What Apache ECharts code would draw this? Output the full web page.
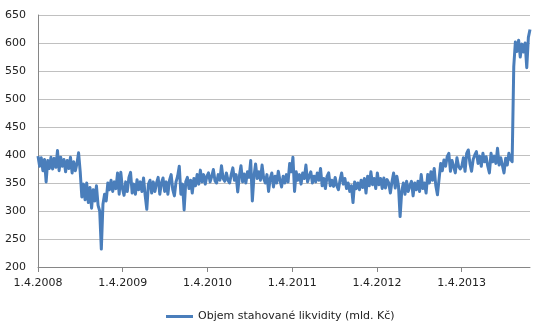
<!DOCTYPE html>
<html>
<head>
<meta charset="utf-8">
<script src="https://cdn.jsdelivr.net/npm/echarts@6/dist/echarts.min.js"></script>
<style>
html,body{margin:0;padding:0;background:#fff;}
#chart{width:536px;height:323px;}
</style>
</head>
<body>
<div id="chart"></div>
<script>
// Weekly observations starting 1.4.2008 (week index 0)
const seriesName = 'Objem stahované likvidity (mld. Kč)';
const tickLabels = ['1.4.2008','1.4.2009','1.4.2010','1.4.2011','1.4.2012','1.4.2013'];
const yTicks = [200,250,300,350,400,450,500,550,600,650];

const values2008 = [398,380,395,372,392,352,390,376,396,375,
  394,378,408,372,396,380,392,370,390,376,
  396,368,388,372,385,404,370,
  325,348,320,350,315,342,305,338,318,345,
  310,300,232,312,330,318,350,338,355,335,
  352,340,368,330,369];
const values2009 = [340,328,352,335,360,369,332,348,330,356,
  338,352,335,359,328,303,348,355,332,352,
  335,350,360,330,350,359,335,352,330,355,
  365,338,327,352,362,380,330,348,302,352,
  360,340,355,332,358,345,365,348,373,352,
  365,348,362];
const values2010 = [368,352,362,374,354,350,365,355,381,358,
  353,368,355,350,365,377,355,365,334,362,
  381,352,366,350,370,360,390,318,362,384,
  358,370,355,382,358,350,365,335,358,368,
  343,362,350,371,355,343,362,350,365,352,
  385,370,396,335];
const values2011 = [370,355,365,348,368,358,382,352,362,370,
  350,362,352,368,355,376,345,358,340,362,
  368,345,355,344,360,345,338,355,368,348,
  358,340,350,335,345,315,352,340,350,338,
  355,342,358,332,362,345,370,347,358,340,
  368];
const values2012 = [347,358,340,359,341,356,350,332,352,368,
  341,362,345,290,335,350,330,353,335,345,
  353,327,350,338,353,335,365,340,350,332,
  365,350,370,355,376,345,329,330,385,372,
  391,380,397,403,371,390,393,368,395,380,
  375];
const values2013 = [380,395,371,403,409,385,371,392,400,406,
  385,398,380,403,388,397,380,368,403,388,
  398,385,412,382,395,397,368,394,382,403,
  392,388,558,602,585,605,575,598,584,600,
  556,610,624];

const weeklyValues = [].concat(values2008, values2009, values2010, values2011, values2012, values2013);
const daysPerYear = 365.25;
const seriesData = weeklyValues.map((v, i) => [i * 7 / daysPerYear, v]);
const xMax = (weeklyValues.length - 1) * 7 / daysPerYear;
const tickPositions = tickLabels.map((_, i) => i);

const chart = echarts.init(document.getElementById('chart'), null, {renderer: 'canvas'});
chart.setOption({
  animation: false,
  backgroundColor: '#ffffff',
  textStyle: {fontFamily: 'DejaVu Sans'},
  grid: {left: 38, right: 6, top: 15, bottom: 56, containLabel: false},
  legend: {
    data: [{name: seriesName, icon: 'rect'}],
    left: 161,
    top: 306,
    itemWidth: 27,
    itemHeight: 3,
    itemGap: 4,
    textStyle: {fontFamily: 'DejaVu Sans', fontSize: 11, color: '#222'}
  },
  xAxis: {
    type: 'value',
    min: 0,
    max: xMax,
    interval: 1,
    axisLine: {show: true, lineStyle: {color: '#868686', width: 1}},
    axisTick: {show: true, length: 5, lineStyle: {color: '#868686'}, customValues: tickPositions},
    axisLabel: {
      customValues: tickPositions,
      formatter: v => tickLabels[Math.round(v)] || '',
      fontFamily: 'DejaVu Sans', fontSize: 11, color: '#222', margin: 11
    },
    splitLine: {show: false}
  },
  yAxis: {
    type: 'value',
    min: yTicks[0],
    max: yTicks[yTicks.length - 1],
    interval: 50,
    axisLine: {show: true, lineStyle: {color: '#868686', width: 1}},
    axisTick: {show: false},
    axisLabel: {fontFamily: 'DejaVu Sans', fontSize: 11, color: '#222', margin: 12},
    splitLine: {show: true, lineStyle: {color: '#c0c0c0', width: 1}}
  },
  series: [{
    name: seriesName,
    type: 'line',
    data: seriesData,
    showSymbol: false,
    symbol: 'none',
    lineStyle: {color: '#4a7ebb', width: 3, join: 'round'},
    itemStyle: {color: '#4a7ebb'}
  }]
});
</script>
</body>
</html>
